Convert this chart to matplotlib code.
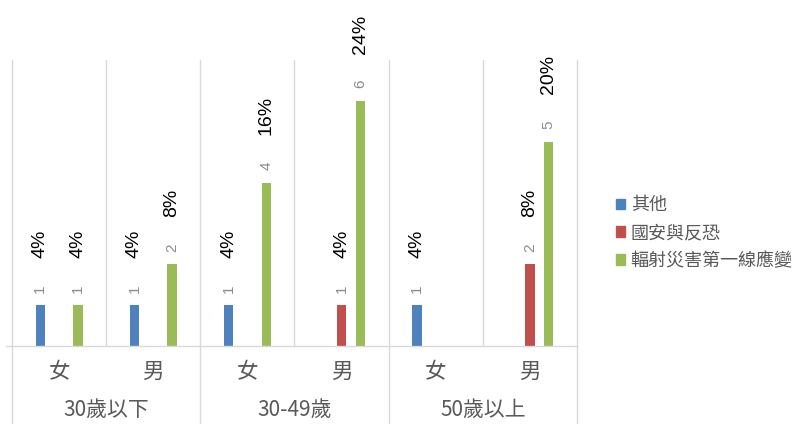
import matplotlib.pyplot as plt
from matplotlib.patches import Patch
from matplotlib.lines import Line2D

# ---- données ----
genders = ["女", "男", "女", "男", "女", "男"]
age_groups = ["30歲以下", "30-49歲", "50歲以上"]
series_names = ["其他", "國安與反恐", "輻射災害第一線應變"]
other_vals = [1, 1, 1, 0, 1, 0]
security_vals = [0, 0, 0, 1, 0, 2]
radiation_vals = [1, 2, 4, 6, 0, 5]
other_pct = ["4%", "4%", "4%", "", "4%", ""]
security_pct = ["", "", "", "4%", "", "8%"]
radiation_pct = ["4%", "8%", "16%", "24%", "", "20%"]

colors = ["#4F81BD", "#C0504D", "#9BBB59"]
grid_c = "#D9D9D9"
text_c = "#595959"
CJK = ["Noto Sans CJK TC", "DejaVu Sans"]

fig = plt.figure(figsize=(8.02, 4.24), dpi=100)
ax = fig.add_axes([12 / 802, 1 - 346 / 424, (577 - 12) / 802, (346 - 60) / 424])

x = list(range(len(genders)))
offsets = [-0.2, 0.0, 0.2]
width = 0.1
all_vals = [other_vals, security_vals, radiation_vals]
all_pct = [other_pct, security_pct, radiation_pct]

for s, (vals, pcts) in enumerate(zip(all_vals, all_pct)):
    for i, (v, p) in enumerate(zip(vals, pcts)):
        if v == 0:
            continue
        xi = x[i] + offsets[s]
        ax.bar(xi, v, width=width, color=colors[s], zorder=3)
        ax.annotate(str(v), (xi, v), xytext=(0, 9), textcoords="offset points",
                    rotation=90, ha="center", va="bottom", fontsize=11,
                    color="#8C8C8C", family="Liberation Sans")
        ax.annotate(p, (xi, v), xytext=(0, 34), textcoords="offset points",
                    rotation=90, ha="center", va="bottom", fontsize=14,
                    color="black", family="Liberation Sans")

ax.set_xlim(-0.5, 5.5)
ax.set_ylim(0, 7)
ax.set_xticks([])
ax.set_yticks([])
for sp in ax.spines.values():
    sp.set_visible(False)

# séparateurs entre catégories
for b in [0.5, 2.5, 4.5]:
    ax.axvline(b, color=grid_c, lw=1, zorder=1)
# séparateurs de groupes (descendent jusqu'en bas)
y_bottom = -(424 - 346) / (346 - 60)
for b in [-0.5, 1.5, 3.5, 5.5]:
    ax.add_line(Line2D([b, b], [y_bottom, 1], color=grid_c, lw=1,
                       transform=ax.get_xaxis_transform(), clip_on=False))
# ligne de base
ax.add_line(Line2D([-0.56, 5.5], [0, 0], color=grid_c, lw=1,
                   transform=ax.get_xaxis_transform(), clip_on=False, zorder=4))

# étiquettes à deux niveaux
for i, g in enumerate(genders):
    ax.text(x[i], -26 / 286, g, transform=ax.get_xaxis_transform(),
            ha="center", va="center", fontsize=15.5, color=text_c, family=CJK)
for j, a in enumerate(age_groups):
    ax.text(2 * j + 0.5, -64 / 286, a, transform=ax.get_xaxis_transform(),
            ha="center", va="center", fontsize=15, color=text_c, family=CJK)

handles = [Patch(color=c) for c in colors]
leg = fig.legend(handles, series_names, loc="center left", bbox_to_anchor=(600 / 802, 1 - 233 / 424),
                 frameon=False, handlelength=0.5, handleheight=0.5, handletextpad=0.3,
                 labelspacing=0.55, prop={"family": CJK, "size": 13})
for t in leg.get_texts():
    t.set_color(text_c)

fig.savefig("out.png", dpi=100)
